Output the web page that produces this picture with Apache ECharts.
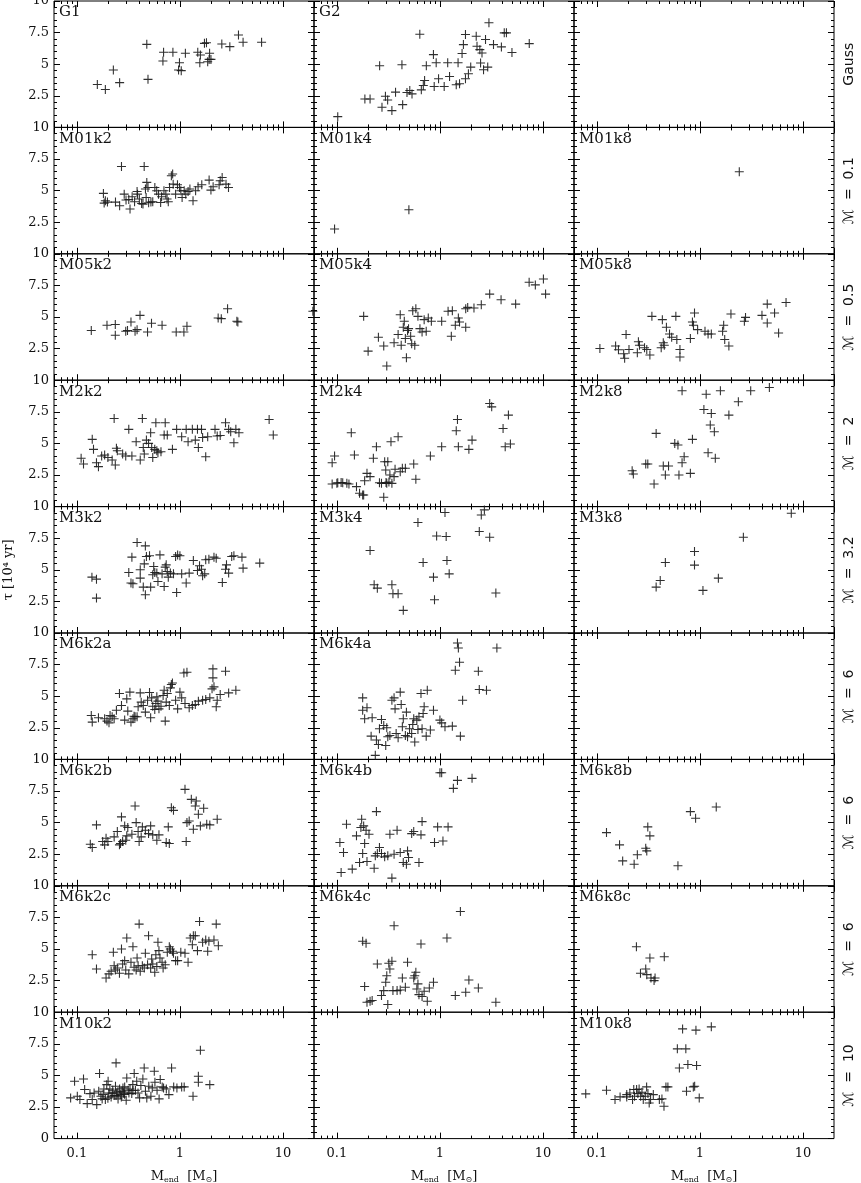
<!DOCTYPE html>
<html>
<head>
<meta charset="utf-8">
<title>tau vs M_end</title>
<script src="https://cdn.jsdelivr.net/npm/echarts@6/dist/echarts.min.js"></script>
<style>
  html, body { margin: 0; padding: 0; background: #fff; }
  #chart { width: 861px; height: 1183px; }
</style>
</head>
<body>
<div id="chart"></div>
<script>
// panel names, row by row ('' = empty panel)
const panelNames = [
  ['G1', 'G2', ''],
  ['M01k2', 'M01k4', 'M01k8'],
  ['M05k2', 'M05k4', 'M05k8'],
  ['M2k2', 'M2k4', 'M2k8'],
  ['M3k2', 'M3k4', 'M3k8'],
  ['M6k2a', 'M6k4a', ''],
  ['M6k2b', 'M6k4b', 'M6k8b'],
  ['M6k2c', 'M6k4c', 'M6k8c'],
  ['M10k2', '', 'M10k8']
];
const rowLabels = ['Gauss', 'ℳ  =  0.1', 'ℳ  =  0.5', 'ℳ  =  2', 'ℳ  =  3.2',
                   'ℳ  =  6', 'ℳ  =  6', 'ℳ  =  6', 'ℳ  =  10'];
const xMinorTicks = [0.07, 0.08, 0.09, 0.2, 0.3, 0.4, 0.5, 0.6, 0.7, 0.8, 0.9,
                     2, 3, 4, 5, 6, 7, 8, 9];
const X_MIN = 0.06, X_MAX = 20;
const Y_MIN = 0, Y_MAX = 10, Y_STEP = 2.5;

// [M_end (Msun), tau (1e4 yr)]
const G1 = [[0.158,3.4],[0.189,3.0],[0.226,4.54],[0.26,3.54],[0.477,6.57],[0.49,3.8],[0.684,5.25],[0.694,5.94],[0.855,5.94],[0.97,4.54],[0.99,5.12],[1.03,4.49],[1.13,5.86],[1.49,5.94],[1.56,5.12],[1.73,6.65],[1.81,6.7],[1.86,5.2],[1.94,5.86],[1.92,5.38],[2.0,5.38],[2.55,6.6],[3.05,6.39],[3.7,7.31],[4.1,6.73],[6.2,6.73],[1.58,5.73]];
const G2 = [[0.102,0.85],[0.187,2.25],[0.21,2.25],[0.26,4.88],[0.274,1.59],[0.296,2.47],[0.311,2.17],[0.342,1.33],[0.371,2.79],[0.428,4.96],[0.435,1.8],[0.479,2.76],[0.51,2.92],[0.536,2.65],[0.638,7.37],[0.66,2.97],[0.69,3.32],[0.71,3.71],[0.738,4.88],[0.865,5.76],[0.88,3.24],[0.92,5.12],[0.97,3.85],[1.1,3.24],[1.19,5.12],[1.24,4.03],[1.44,3.37],[1.5,5.12],[1.55,3.45],[1.64,5.84],[1.69,6.55],[1.77,7.35],[1.77,3.85],[1.89,4.24],[1.99,4.77],[2.25,7.21],[2.29,6.42],[2.44,6.15],[2.48,5.09],[2.56,5.89],[2.65,4.56],[2.77,6.95],[2.91,4.77],[2.99,8.28],[3.31,6.55],[3.95,6.37],[4.21,7.48],[4.42,7.48],[5.0,5.92],[7.36,6.63]];
const M01k2 = [[0.181,4.78],[0.184,4.01],[0.189,4.2],[0.198,4.09],[0.237,4.09],[0.26,3.8],[0.271,6.91],[0.288,4.72],[0.3,4.25],[0.319,4.3],[0.328,3.54],[0.344,4.51],[0.363,4.12],[0.388,4.72],[0.404,4.33],[0.425,3.98],[0.438,3.93],[0.45,6.91],[0.463,5.12],[0.47,4.46],[0.477,5.65],[0.49,5.25],[0.497,4.04],[0.523,4.09],[0.545,4.12],[0.571,5.25],[0.595,4.99],[0.62,4.72],[0.664,4.51],[0.7,4.99],[0.73,4.72],[0.771,4.12],[0.793,5.25],[0.826,6.17],[0.85,6.31],[0.86,5.51],[0.908,4.72],[0.947,5.46],[0.99,5.25],[1.02,4.99],[1.05,4.46],[1.1,4.99],[1.14,4.72],[1.2,4.93],[1.25,5.12],[1.34,4.2],[1.42,4.99],[1.5,5.3],[1.63,5.46],[1.92,5.83],[2.0,5.04],[2.1,5.3],[2.4,5.46],[2.46,5.78],[2.57,6.04],[2.8,5.51],[2.96,5.25],[0.384,4.93],[0.65,4.06],[0.75,4.33]];
const M01k4 = [[0.095,1.96],[0.50,3.48]];
const M01k8 = [[2.41,6.49]];
const M05k2 = [[0.138,3.93],[0.196,4.35],[0.236,4.4],[0.236,3.56],[0.298,3.87],[0.31,3.93],[0.335,4.61],[0.367,3.87],[0.384,4.0],[0.41,5.13],[0.485,3.82],[0.53,4.5],[0.671,4.35],[0.92,3.82],[1.093,3.82],[1.17,4.27],[2.35,4.92],[2.52,4.87],[2.9,5.65],[3.57,4.66],[3.65,4.61],[19.5,5.45]];
const M05k4 = [[0.182,5.05],[0.201,2.3],[0.253,3.4],[0.285,2.7],[0.305,1.13],[0.359,2.96],[0.393,3.61],[0.412,5.18],[0.421,2.77],[0.441,4.19],[0.451,4.66],[0.462,3.3],[0.473,1.78],[0.485,3.93],[0.496,4.08],[0.52,3.48],[0.532,2.88],[0.545,5.5],[0.57,2.77],[0.584,5.65],[0.612,5.05],[0.64,4.08],[0.671,3.82],[0.703,4.79],[0.736,3.87],[0.771,4.92],[0.826,4.66],[1.04,4.66],[1.2,5.45],[1.29,3.48],[1.32,5.5],[1.41,4.35],[1.51,4.92],[1.55,4.61],[1.78,4.19],[1.78,5.65],[2.14,5.71],[2.52,5.97],[3.04,6.81],[3.92,6.36],[5.43,6.02],[7.34,7.75],[8.43,7.54],[10.1,8.0],[10.6,6.81],[1.86,5.76]];
const M05k8 = [[0.107,2.51],[0.152,2.7],[0.162,2.41],[0.182,2.09],[0.186,1.73],[0.192,3.61],[0.205,2.43],[0.247,2.17],[0.253,3.04],[0.259,2.77],[0.29,2.57],[0.305,2.43],[0.327,1.99],[0.342,5.05],[0.421,2.57],[0.432,4.79],[0.441,2.96],[0.451,2.77],[0.473,4.19],[0.507,3.66],[0.532,3.4],[0.584,5.05],[0.597,3.22],[0.64,2.43],[0.64,1.83],[0.808,3.3],[0.846,4.61],[0.866,4.35],[0.886,5.31],[0.95,4.0],[1.12,3.87],[1.2,3.66],[1.29,3.66],[1.66,3.87],[1.7,4.35],[1.74,3.22],[1.91,2.7],[2.0,5.24],[2.7,4.66],[2.77,4.97],[4.0,5.13],[4.5,4.53],[4.5,6.02],[5.3,5.31],[5.8,3.74],[6.85,6.15]];
const M2k2 = [[0.11,3.82],[0.116,3.37],[0.141,5.32],[0.145,4.53],[0.155,3.47],[0.162,3.16],[0.174,4.0],[0.186,4.08],[0.2,3.89],[0.22,3.68],[0.236,3.29],[0.242,4.61],[0.247,4.42],[0.23,6.97],[0.278,4.16],[0.298,4.0],[0.319,6.11],[0.342,4.0],[0.376,5.13],[0.412,3.68],[0.432,6.97],[0.441,4.68],[0.451,4.16],[0.473,5.26],[0.496,5.0],[0.52,5.84],[0.532,4.68],[0.545,3.89],[0.57,4.53],[0.584,6.63],[0.597,4.42],[0.612,4.26],[0.655,4.34],[0.703,5.66],[0.72,6.63],[0.754,5.66],[0.846,4.53],[0.929,6.11],[1.04,5.53],[1.15,6.11],[1.2,5.13],[1.32,6.11],[1.41,5.26],[1.48,6.11],[1.51,4.68],[1.62,6.11],[1.66,5.47],[1.78,3.95],[1.86,5.53],[2.19,6.11],[2.3,5.58],[2.46,5.63],[2.77,6.63],[2.97,6.11],[3.11,5.92],[3.34,5.05],[3.49,6.11],[3.74,5.84],[7.34,6.89],[8.05,5.66]];
const M2k4 = [[0.09,3.47],[0.095,4.0],[0.09,1.79],[0.102,1.89],[0.114,1.89],[0.125,1.84],[0.131,1.79],[0.138,5.84],[0.148,4.08],[0.155,1.58],[0.166,1.05],[0.178,0.92],[0.182,0.92],[0.186,2.05],[0.196,2.63],[0.21,2.37],[0.226,3.82],[0.242,4.74],[0.259,1.89],[0.271,1.84],[0.285,0.74],[0.291,3.55],[0.298,2.89],[0.305,1.84],[0.312,3.55],[0.327,2.5],[0.335,5.13],[0.342,1.84],[0.359,2.37],[0.367,2.95],[0.393,5.53],[0.412,2.76],[0.432,3.03],[0.462,3.03],[0.557,3.37],[0.584,2.16],[0.808,4.0],[1.04,4.74],[1.44,6.0],[1.48,6.89],[1.51,4.74],[1.91,4.53],[2.05,5.26],[3.04,8.16],[3.18,7.89],[4.1,6.18],[4.3,4.74],[4.62,7.24],[4.83,4.95],[0.3,1.9],[0.32,1.95],[0.1,1.85],[0.11,1.9]];
const M2k8 = [[0.22,2.84],[0.226,2.58],[0.298,3.37],[0.312,3.37],[0.359,1.79],[0.376,5.79],[0.441,3.21],[0.462,2.5],[0.496,3.21],[0.57,5.0],[0.612,4.87],[0.626,2.5],[0.671,3.47],[0.703,3.95],[0.808,2.63],[0.846,5.32],[0.671,9.16],[1.093,7.68],[1.15,8.89],[1.2,4.26],[1.26,6.45],[1.29,7.37],[1.41,3.82],[1.38,5.92],[1.58,9.16],[1.91,7.24],[2.36,8.29],[3.11,9.16],[4.72,9.42]];
const M3k2 = [[0.14,4.42],[0.155,4.26],[0.155,2.76],[0.319,4.79],[0.335,3.95],[0.342,6.0],[0.35,3.89],[0.384,7.16],[0.412,4.34],[0.412,5.0],[0.441,3.63],[0.451,5.47],[0.462,6.89],[0.462,3.03],[0.473,6.05],[0.507,6.11],[0.52,3.63],[0.545,4.61],[0.557,5.26],[0.57,4.79],[0.597,4.74],[0.612,4.08],[0.64,6.18],[0.671,4.68],[0.703,3.68],[0.72,5.21],[0.736,5.39],[0.754,4.87],[0.771,4.42],[0.808,4.74],[0.866,4.68],[0.908,6.05],[0.929,3.21],[0.95,6.18],[1.0,6.11],[1.04,4.68],[1.15,3.95],[1.23,4.74],[1.35,5.74],[1.48,4.95],[1.55,5.32],[1.62,5.05],[1.66,4.53],[1.74,4.68],[1.78,5.79],[1.91,5.84],[2.14,6.0],[2.25,5.92],[2.58,4.0],[2.77,5.05],[2.83,5.39],[3.18,6.05],[3.34,6.11],[4.0,6.0],[4.1,5.13],[5.95,5.53],[2.97,4.74]];
const M3k4 = [[0.21,6.53],[0.23,3.82],[0.247,3.55],[0.342,3.82],[0.35,3.11],[0.393,3.11],[0.441,1.79],[0.612,8.74],[0.687,5.58],[0.866,4.42],[0.886,2.63],[0.929,7.68],[1.12,9.53],[1.15,7.63],[1.17,5.74],[1.23,4.68],[2.41,8.03],[2.52,9.34],[2.7,9.74],[3.04,7.58],[3.49,3.16]];
const M3k8 = [[0.376,3.63],[0.412,4.16],[0.462,5.58],[0.886,6.45],[0.886,5.37],[1.07,3.37],[1.51,4.34],[2.64,7.58],[7.7,9.47]];
const M6k2a = [[0.138,3.47],[0.141,2.95],[0.162,3.29],[0.186,3.21],[0.196,3.03],[0.205,2.89],[0.21,3.47],[0.22,3.37],[0.23,3.21],[0.242,3.89],[0.259,5.21],[0.271,4.26],[0.291,3.11],[0.305,4.79],[0.312,3.82],[0.327,5.32],[0.335,2.95],[0.35,3.21],[0.359,3.42],[0.367,3.37],[0.384,3.37],[0.393,4.16],[0.412,5.26],[0.421,4.53],[0.441,4.26],[0.462,3.74],[0.485,4.68],[0.507,5.29],[0.52,3.29],[0.532,4.87],[0.545,4.21],[0.57,3.95],[0.584,4.42],[0.597,4.95],[0.612,4.61],[0.626,4.0],[0.655,4.21],[0.687,5.05],[0.703,5.47],[0.72,3.03],[0.736,4.53],[0.754,5.21],[0.789,4.26],[0.808,5.66],[0.826,5.92],[0.846,6.05],[0.908,4.68],[0.95,4.0],[1.0,5.32],[1.04,4.87],[1.093,6.84],[1.12,4.42],[1.17,6.89],[1.23,4.08],[1.32,4.26],[1.41,4.34],[1.51,4.61],[1.66,4.68],[1.78,4.74],[1.95,4.87],[2.05,5.58],[2.09,7.16],[2.09,6.45],[2.14,5.74],[2.25,4.16],[2.3,4.68],[2.46,5.13],[2.77,6.97],[2.97,5.26],[3.49,5.47]];
const M6k4a = [[0.178,4.87],[0.178,3.89],[0.186,3.21],[0.196,4.08],[0.22,3.29],[0.236,0.32],[0.242,1.53],[0.253,1.18],[0.259,2.42],[0.271,3.16],[0.285,2.68],[0.298,1.1],[0.312,1.79],[0.327,1.89],[0.342,4.68],[0.359,4.87],[0.367,4.0],[0.376,2.05],[0.393,1.71],[0.412,5.32],[0.421,4.34],[0.432,2.58],[0.441,3.21],[0.462,1.89],[0.473,3.74],[0.485,1.79],[0.507,2.42],[0.532,2.05],[0.557,3.21],[0.57,1.37],[0.597,3.11],[0.626,3.37],[0.655,5.21],[0.671,2.42],[0.687,3.63],[0.703,4.16],[0.736,1.84],[0.754,5.47],[0.808,2.32],[0.866,3.89],[1.0,3.11],[1.04,2.89],[1.12,2.58],[1.32,2.63],[1.41,7.05],[1.48,9.21],[1.51,8.82],[1.55,7.68],[1.58,1.84],[1.66,4.68],[2.36,6.97],[2.41,5.53],[2.83,5.47],[3.57,8.82],[0.215,1.84],[0.305,2.5],[0.545,2.76],[0.612,2.37]];
const M6k2b = [[0.135,3.29],[0.141,3.03],[0.155,4.82],[0.178,3.5],[0.186,3.24],[0.192,3.76],[0.2,3.5],[0.23,3.87],[0.247,4.29],[0.259,3.24],[0.265,3.34],[0.271,5.45],[0.278,3.5],[0.291,4.74],[0.298,3.61],[0.305,3.95],[0.312,4.61],[0.342,4.08],[0.367,6.32],[0.376,5.0],[0.393,4.29],[0.402,3.5],[0.421,3.87],[0.432,4.66],[0.462,4.39],[0.496,4.13],[0.52,4.74],[0.545,4.03],[0.597,3.61],[0.626,4.03],[0.736,3.42],[0.771,4.66],[0.789,3.34],[0.826,6.18],[0.866,5.97],[1.12,7.63],[1.15,3.5],[1.17,5.0],[1.23,5.13],[1.29,6.84],[1.35,4.47],[1.41,6.32],[1.44,6.71],[1.51,5.66],[1.58,4.74],[1.7,6.13],[1.82,4.87],[1.95,4.82],[2.3,5.26]];
const M6k4b = [[0.107,3.42],[0.11,1.05],[0.116,2.63],[0.124,4.87],[0.141,1.32],[0.155,3.95],[0.166,1.84],[0.171,4.61],[0.174,5.26],[0.178,2.55],[0.182,4.74],[0.186,3.34],[0.192,4.39],[0.196,1.92],[0.205,4.08],[0.23,1.39],[0.236,2.37],[0.242,5.87],[0.247,2.55],[0.259,3.03],[0.271,2.55],[0.291,2.29],[0.312,2.37],[0.327,4.08],[0.342,0.61],[0.359,2.5],[0.384,4.39],[0.412,2.63],[0.441,1.84],[0.473,1.71],[0.485,2.76],[0.496,2.24],[0.532,4.13],[0.557,4.29],[0.626,1.84],[0.655,4.03],[0.671,5.08],[0.886,3.42],[0.95,4.66],[1.0,8.95],[1.04,8.95],[1.07,3.55],[1.2,4.66],[1.35,7.71],[1.48,8.34],[2.05,8.5]];
const M6k8b = [[0.124,4.21],[0.166,3.24],[0.178,1.97],[0.23,1.71],[0.247,2.45],[0.298,2.97],[0.305,2.76],[0.312,4.66],[0.327,3.95],[0.612,1.58],[0.808,5.87],[0.908,5.34],[1.44,6.24]];
const M6k2c = [[0.141,4.55],[0.155,3.42],[0.192,2.71],[0.205,3.03],[0.215,3.24],[0.226,4.74],[0.23,3.68],[0.236,3.34],[0.247,3.5],[0.259,3.08],[0.271,5.0],[0.278,3.82],[0.291,4.08],[0.298,3.34],[0.305,5.87],[0.319,3.03],[0.335,3.95],[0.35,5.18],[0.359,3.55],[0.376,3.34],[0.384,4.29],[0.393,3.68],[0.402,6.97],[0.412,3.24],[0.432,3.68],[0.451,3.5],[0.462,4.66],[0.485,3.76],[0.496,6.05],[0.52,3.5],[0.532,4.21],[0.545,3.82],[0.57,3.16],[0.584,4.55],[0.597,3.61],[0.612,5.53],[0.626,4.87],[0.64,4.29],[0.671,3.95],[0.687,3.5],[0.72,3.76],[0.754,4.74],[0.789,5.18],[0.808,5.0],[0.846,4.82],[0.866,4.66],[0.908,4.08],[0.95,4.08],[1.02,4.74],[1.12,4.66],[1.2,3.95],[1.26,5.87],[1.32,5.34],[1.35,6.05],[1.41,6.05],[1.48,4.87],[1.55,7.18],[1.66,5.53],[1.78,5.71],[1.86,4.82],[1.91,5.61],[2.14,5.71],[2.25,6.97],[2.36,5.26]];
const M6k4c = [[0.178,5.61],[0.192,5.45],[0.186,2.03],[0.196,0.79],[0.21,0.87],[0.22,0.92],[0.247,3.82],[0.271,1.32],[0.285,1.71],[0.298,2.37],[0.305,2.89],[0.312,0.61],[0.319,3.87],[0.327,3.42],[0.342,4.03],[0.35,1.71],[0.359,6.84],[0.384,1.71],[0.412,1.76],[0.432,2.71],[0.462,1.97],[0.485,3.95],[0.557,2.71],[0.57,2.89],[0.584,3.16],[0.597,1.84],[0.612,2.24],[0.626,1.39],[0.655,5.39],[0.671,1.24],[0.703,1.66],[0.754,0.87],[0.789,1.92],[0.866,2.37],[1.17,5.87],[1.41,1.32],[1.58,7.97],[1.78,1.58],[1.91,2.55],[2.36,1.92],[3.49,0.79]];
const M6k8c = [[0.242,5.18],[0.265,3.08],[0.298,3.42],[0.305,2.97],[0.327,4.29],[0.335,2.71],[0.359,2.5],[0.367,2.71],[0.451,4.39]];
const M10k2 = [[0.087,3.22],[0.095,4.54],[0.101,3.35],[0.107,3.09],[0.116,4.72],[0.119,3.88],[0.126,2.77],[0.134,3.56],[0.141,3.09],[0.147,3.61],[0.156,2.69],[0.163,3.75],[0.166,5.15],[0.171,3.35],[0.176,3.14],[0.183,3.93],[0.189,3.09],[0.195,4.27],[0.201,4.54],[0.204,3.61],[0.209,3.93],[0.215,3.3],[0.223,3.83],[0.23,3.4],[0.237,4.14],[0.24,5.99],[0.244,3.61],[0.251,3.14],[0.26,3.93],[0.267,3.48],[0.275,3.75],[0.283,3.61],[0.291,4.09],[0.301,3.03],[0.305,4.8],[0.314,3.83],[0.328,3.93],[0.341,3.56],[0.349,4.27],[0.36,5.15],[0.37,3.83],[0.381,4.54],[0.392,3.61],[0.406,3.22],[0.418,4.2],[0.437,4.72],[0.45,5.59],[0.463,3.75],[0.477,3.22],[0.499,4.14],[0.523,3.35],[0.539,4.01],[0.564,5.33],[0.572,4.46],[0.6,3.83],[0.628,3.14],[0.644,4.67],[0.673,4.09],[0.694,4.01],[0.738,3.93],[0.782,3.48],[0.83,5.59],[0.87,4.09],[0.935,4.01],[1.04,4.09],[1.1,4.09],[1.34,3.35],[1.51,4.93],[1.58,6.99],[1.51,4.46],[1.95,4.27],[0.18,3.5],[0.2,3.2],[0.22,3.6],[0.25,3.7],[0.27,3.3],[0.29,3.5],[0.32,3.6],[0.35,3.8],[0.28,4.0],[0.24,3.4]];
const M10k8 = [[0.078,3.54],[0.124,3.83],[0.15,3.09],[0.168,3.3],[0.195,3.48],[0.209,3.61],[0.222,3.09],[0.232,3.35],[0.243,3.88],[0.25,3.56],[0.257,3.93],[0.266,3.35],[0.274,3.67],[0.282,3.09],[0.295,3.35],[0.304,4.09],[0.313,3.56],[0.322,2.82],[0.332,3.09],[0.353,3.48],[0.404,3.09],[0.428,3.14],[0.448,2.56],[0.468,4.09],[0.489,4.09],[0.604,7.1],[0.632,5.59],[0.679,8.68],[0.73,7.1],[0.741,3.75],[0.764,5.86],[0.863,4.09],[0.889,4.14],[0.915,8.58],[0.928,5.78],[0.985,3.22],[1.29,8.84],[0.195,3.3],[0.228,3.88]];

const panelData = {G1, G2, M01k2, M01k4, M01k8, M05k2, M05k4, M05k8, M2k2, M2k4, M2k8,
  M3k2, M3k4, M3k8, M6k2a, M6k4a, M6k2b, M6k4b, M6k8b, M6k2c, M6k4c, M6k8c, M10k2, M10k8};

// layout
const LEFT = 54, COLW = 260, TOP = 1, ROWH = 126.4;
const SERIF = "'DejaVu Serif', 'Liberation Serif', serif";
const SANS = "'DejaVu Sans', 'Noto Sans', sans-serif";
const PLUS = 'path://M0,4.4H10V5.6H0Z M4.4,0H5.6V10H4.4Z';
const tickStyle = {color: '#000', width: 1};

const chart = echarts.init(document.getElementById('chart'));
const grids = [], xAxes = [], yAxes = [], series = [], graphics = [];
const nRows = panelNames.length;

panelNames.forEach((row, r) => {
  row.forEach((name, c) => {
    const gi = grids.length;
    const last = r === nRows - 1;
    const left = LEFT + c * COLW, top = TOP + r * ROWH;
    grids.push({left: left, top: top, width: COLW, height: ROWH, show: true,
      borderColor: '#000', borderWidth: 1, backgroundColor: 'transparent',
      outerBoundsMode: 'none', containLabel: false});

    ['bottom', 'top'].forEach(pos => {
      const withLabel = last && pos === 'bottom';
      // major ticks on the log axis itself
      xAxes.push({
        type: 'log', logBase: 10, min: X_MIN, max: X_MAX, gridIndex: gi, position: pos,
        axisLine: {show: false, onZero: false}, splitLine: {show: false},
        axisTick: {show: true, inside: true, length: 6, lineStyle: tickStyle},
        axisLabel: withLabel ? {show: true, showMinLabel: false, showMaxLabel: false,
          margin: 9, fontSize: 13, fontFamily: SERIF, color: '#111'} : {show: false},
        name: withLabel ? '{n|M}{s|end}{n|  [M}{s|⊙}{n|]}' : '',
        nameLocation: 'middle', nameGap: 30,
        nameTextStyle: {rich: {
          n: {fontSize: 13, fontFamily: SERIF, color: '#111', lineHeight: 16},
          s: {fontSize: 8, fontFamily: SERIF, color: '#111', lineHeight: 16, padding: [7, 0, 0, 0]}
        }}
      });
      // minor ticks (2..9 per decade) on a helper axis in log10 units
      xAxes.push({
        type: 'value', min: Math.log10(X_MIN), max: Math.log10(X_MAX), gridIndex: gi, position: pos,
        axisLine: {show: false, onZero: false}, splitLine: {show: false}, axisLabel: {show: false},
        axisTick: {show: true, inside: true, length: 3, lineStyle: tickStyle,
          customValues: xMinorTicks.map(v => Math.log10(v))}
      });
    });

    ['left', 'right'].forEach(pos => {
      const withLabel = c === 0 && pos === 'left';
      yAxes.push({
        type: 'value', min: Y_MIN, max: Y_MAX, interval: Y_STEP, gridIndex: gi, position: pos,
        axisLine: {show: false, onZero: false}, splitLine: {show: false},
        axisTick: {show: true, inside: true, length: 6, lineStyle: tickStyle},
        minorTick: {show: true, splitNumber: 5, length: 3, lineStyle: tickStyle},
        axisLabel: withLabel ? {show: true, showMinLabel: last, margin: 5, fontSize: 13,
          fontFamily: SERIF, color: '#111'} : {show: false}
      });
    });

    if (name && panelData[name]) {
      series.push({
        type: 'scatter', name: name, xAxisIndex: gi * 4, yAxisIndex: gi * 2,
        data: panelData[name], symbol: PLUS, symbolSize: 9, clip: true, silent: true,
        itemStyle: {color: '#1a1a1a', opacity: 0.9}
      });
      graphics.push({type: 'text', x: left + 5, y: top + 4, silent: true,
        style: {text: name, font: '15px ' + SERIF, fill: '#111'}});
    }
  });
  // row label at the right
  graphics.push({type: 'text', x: 849, y: TOP + (r + 0.5) * ROWH, rotation: Math.PI / 2, silent: true,
    style: {text: rowLabels[r], font: '14px ' + SANS, fill: '#111',
      align: 'center', verticalAlign: 'middle', textAlign: 'center', textVerticalAlign: 'middle'}});
});

// y-axis title
graphics.push({type: 'text', x: 9, y: TOP + nRows * ROWH / 2, rotation: Math.PI / 2, silent: true,
  style: {text: 'τ [10⁴ yr]', font: '13px ' + SERIF, fill: '#111',
    align: 'center', verticalAlign: 'middle', textAlign: 'center', textVerticalAlign: 'middle'}});

chart.setOption({
  animation: false,
  backgroundColor: '#fff',
  grid: grids,
  xAxis: xAxes,
  yAxis: yAxes,
  series: series,
  graphic: graphics
});
</script>
</body>
</html>
